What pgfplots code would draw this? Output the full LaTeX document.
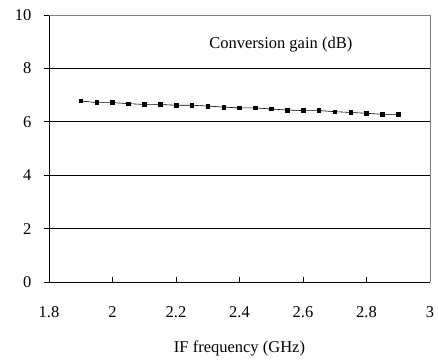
\documentclass[border=0pt]{standalone}
\usepackage{fontspec}
\setmainfont{Liberation Serif}
\usepackage{pgfplots}
\pgfplotsset{compat=1.18}
\newcommand{\fs}{\fontsize{16.5pt}{19pt}\selectfont}
\begin{document}
\fs
\begin{tikzpicture}
\begin{axis}[
  scale only axis, width=381pt, height=267pt,
  xmin=1.8, xmax=3, ymin=0, ymax=10,
  axis x line*=bottom, axis y line*=left,
  axis line style={black, line width=0.8pt},
  xtick={1.8,2,2.2,2.4,2.6,2.8,3},
  ytick={0,2,4,6,8,10},
  xticklabels={1.8,2,2.2,2.4,2.6,2.8,3},
  yticklabels={0,2,4,6,8,10},
  x tick label style={yshift=-19pt},
  y tick label style={xshift=-7pt},
  xtick align=inside, ytick align=outside,
  major tick length=5pt,
  tick style={black, line width=0.6pt},
  ymajorgrids, grid style={black, line width=0.6pt},
  tick label style={font=\fs},
  xlabel={IF frequency (GHz)},
  xlabel style={font=\fs, yshift=-12pt},
  /pgf/number format/assume math mode=true,
  clip=false,
]
\addplot[black, line width=0.6pt, mark=square*, mark size=1.8pt] coordinates {
(1.90,6.78) (1.95,6.72) (2.00,6.72) (2.05,6.68) (2.10,6.65) (2.15,6.65)
(2.20,6.62) (2.25,6.62) (2.30,6.59) (2.35,6.55) (2.40,6.52) (2.45,6.52)
(2.50,6.48) (2.55,6.44) (2.60,6.42) (2.65,6.42) (2.70,6.38) (2.75,6.35)
(2.80,6.32) (2.85,6.28) (2.90,6.28)
};
\draw[gray, line width=0.8pt] (rel axis cs:0,1) -- (rel axis cs:1,1) -- (rel axis cs:1,0);
\node[font=\fs] at (axis cs:2.53,8.88) {Conversion gain (dB)};
\end{axis}
\pgfresetboundingbox
\path (current axis.south west) ++(-49pt,-79pt) coordinate (bl);
\path (current axis.north east) ++(8pt,15pt) coordinate (tr);
\useasboundingbox (bl) rectangle (tr);
\end{tikzpicture}
\end{document}
